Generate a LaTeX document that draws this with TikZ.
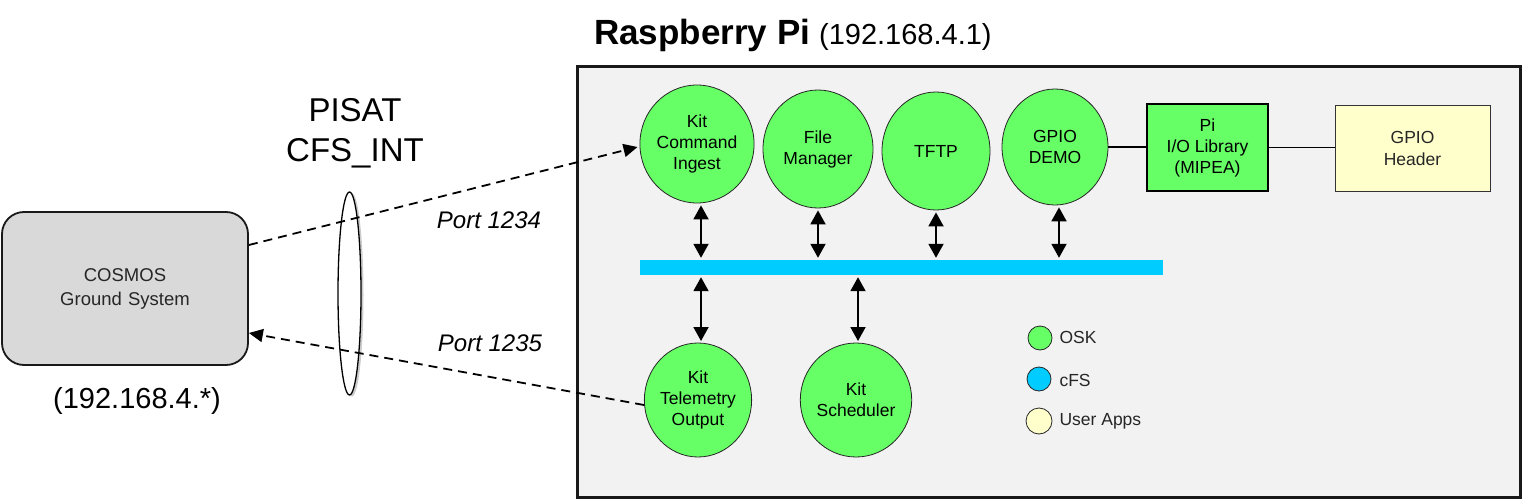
\documentclass[tikz,border=0pt]{standalone}
\usepackage{fontspec}
\setmainfont{Liberation Sans}
\usetikzlibrary{shapes.geometric,arrows.meta,shadows}
\definecolor{oskgreen}{HTML}{66FF66}
\definecolor{cfsblue}{HTML}{00CCFF}
\definecolor{userapp}{HTML}{FFFFCC}
\definecolor{pibg}{HTML}{F2F2F2}
\definecolor{gsgray}{HTML}{D9D9D9}
\begin{document}
\begin{tikzpicture}[x=1pt,y=-1pt,
  app/.style={ellipse, draw=black!85, line width=0.8pt, fill=oskgreen, minimum width=110pt, minimum height=118pt, inner sep=0pt, align=center, font=\fontsize{17.5}{21}\selectfont},
  dbl/.style={{Triangle[width=15pt,length=14pt]}-{Triangle[width=15pt,length=14pt]}, line width=1.9pt, shorten <=2pt, shorten >=2pt},
  dsh/.style={-{Triangle[width=13pt,length=14pt]}, line width=1.8pt, dash pattern=on 9pt off 6pt},
  legdot/.style={circle, draw=black!85, line width=0.8pt, minimum size=24pt, inner sep=0pt},
  legtxt/.style={anchor=west, font=\fontsize{17.5}{21}\selectfont, text=black!85},
  plain/.style={line width=1.6pt}
]
\useasboundingbox (0,0) rectangle (1523,500);
% Raspberry Pi box
\node[draw=black!90, line width=3pt, fill=pibg, minimum width=943pt, minimum height=430pt, inner sep=0pt] (pi) at (1048.5,282) {};
\node[anchor=base west, inner sep=0pt] (title) at (594,45) {{\fontsize{35}{40}\selectfont\bfseries Raspberry Pi}\hspace{9pt}{\fontsize{29}{34}\selectfont (192.168.4.1)}};
% Ground system
\node[draw=black!90, line width=1.8pt, fill=gsgray, rounded corners=22pt, minimum width=246pt, minimum height=153pt, align=center, font=\fontsize{18.5}{24}\selectfont, text=black!85] (gs) at (125,288.5) {COSMOS\\Ground\,\,System};
\node[font=\fontsize{29}{34}\selectfont] (gsip) at (137,401) {(192.168.4.*)};
% PISAT lens
\node[font=\fontsize{33}{40}\selectfont, align=center] (pisat) at (355,133) {PISAT\\CFS\_INT};
\node[ellipse, draw=black, line width=1.3pt, fill=white, minimum width=23pt, minimum height=203pt, inner sep=0pt, drop shadow={shadow xshift=2.5pt, shadow yshift=-1.5pt, opacity=0.4}] (lens) at (349.5,293.5) {};
% Apps
\node[app] (kci) at (697,144) {Kit\\Command\\Ingest};
\node[app] (fm) at (818,149) {File\\Manager};
\node[app, minimum width=108pt] (tftp) at (936,151) {TFTP};
\node[app, minimum width=106pt, minimum height=116pt] (gpio) at (1055,147) {GPIO\\DEMO};
\node[app, minimum width=107pt, minimum height=114pt] (kto) at (698,400) {Kit\\Telemetry\\Output};
\node[app, minimum width=107pt, minimum height=114pt] (ksch) at (856,400) {Kit\\Scheduler};
\node[draw=black, line width=2.2pt, fill=oskgreen, minimum width=121pt, minimum height=87pt, inner sep=0pt, align=center, font=\fontsize{17.5}{21}\selectfont] (lib) at (1207.5,147.5) {Pi\\I/O Library\\(MIPEA)};
\node[draw=black!80, line width=1pt, fill=userapp, minimum width=155pt, minimum height=85pt, inner sep=0pt, align=center, font=\fontsize{17.5}{22}\selectfont, text=black!85] (hdr) at (1412.5,148.5) {GPIO\\Header};
% cFS bus
\node[fill=cfsblue, minimum width=523pt, minimum height=15pt, inner sep=0pt] (bus) at (901.5,267.5) {};
% bus connections
\draw[dbl] ([xshift=4pt]kci.south) -- ([xshift=4pt]kci.south |- bus.north);
\draw[dbl] (fm.south) -- (fm.south |- bus.north);
\draw[dbl] (tftp.south) -- (tftp.south |- bus.north);
\draw[dbl] ([xshift=4pt]gpio.south) -- ([xshift=4pt]gpio.south |- bus.north);
\draw[dbl] (bus.south -| 701,0) -- (701,343);
\draw[dbl] (bus.south -| 858,0) -- (858,343);
% gpio chain
\draw[plain] (gpio.east) -- (lib.west |- gpio.east);
\draw[plain] (lib.east) -- (hdr.west |- lib.east);
% dashed links
\draw[dsh] (gs.east |- 0,245) -- ([xshift=-2pt,yshift=-3pt]kci.west);
\draw[dsh] ([yshift=-5pt]kto.west) -- (gs.east |- 0,333);
\node[font=\fontsize{24}{28}\selectfont\itshape] (p1) at (489,220) {Port 1234};
\node[font=\fontsize{24}{28}\selectfont\itshape] (p2) at (490,343) {Port 1235};
% legend
\node[legdot, fill=oskgreen] (l1) at (1040,338) {};
\node[legtxt] (t1) at (1056,337) {OSK};
\node[legdot, fill=cfsblue] (l2) at (1039,379) {};
\node[legtxt] (t2) at (1056,380) {cFS};
\node[legdot, fill=userapp, minimum size=26pt] (l3) at (1039,421) {};
\node[legtxt] (t3) at (1056,421) {User Apps};
\end{tikzpicture}
\end{document}
